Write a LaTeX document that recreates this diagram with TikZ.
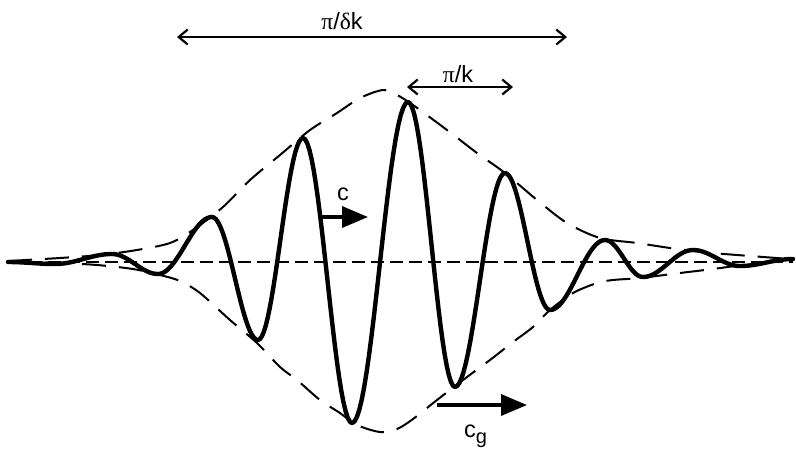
\documentclass[tikz,border=0pt]{standalone}
\usepackage{fontspec}
\setmainfont{Liberation Sans}
\newfontfamily\grk{Liberation Serif}
\usetikzlibrary{arrows.meta}
\begin{document}
\begin{tikzpicture}[x=1pt,y=-1pt,
  wave/.style={line width=4.4pt, line join=round, line cap=round},
  envel/.style={line width=2pt, dash pattern=on 24pt off 13pt},
  axisline/.style={line width=1.5pt, dash pattern=on 13pt off 6pt},
  dimarrow/.style={line width=2.2pt, {Straight Barb[length=9pt,width=15pt]}-{Straight Barb[length=9pt,width=15pt]}},
  velarrow/.style={line width=3.6pt, -{Triangle[length=26pt,width=21pt]}},
  lab/.style={font=\fontsize{23.5}{27}\selectfont, inner sep=0pt, anchor=base}]
\useasboundingbox (0,0) rectangle (796,451);
% baseline
\coordinate (bl) at (10,262);
\coordinate (br) at (793,262);
\draw[axisline] (bl) -- (br);
% envelope (upper and lower)
\draw[envel] plot[smooth, tension=0.5] coordinates {
 (8,261) (60,258) (100,255) (137,250) (170,243) (193,230) (223,207) (250,180)
 (280,155) (310,130) (337,113) (360,98) (383,90) (397,95) (413,105) (447,130)
 (477,153) (505,173) (537,200) (567,223) (600,238) (637,243) (677,249)
 (713,253) (750,256) (790,259)};
\draw[envel] plot[smooth, tension=0.5] coordinates {
 (8,262) (60,263) (97,265) (133,269) (160,275) (180,281) (200,293) (230,320)
 (257,343) (280,367) (297,380) (320,400) (340,413) (357,425) (380,432)
 (397,429) (413,419) (437,400) (467,377) (490,360) (513,342) (533,327)
 (550,310) (573,293) (597,283) (613,280) (640,278) (680,273) (713,269)
 (750,264) (790,260)};
% carrier wave
\draw[wave] (8,262) \foreach \a/\b/\c/\d in {
  8/262/55/264, 55/264/112/254, 112/254/158/274, 158/274/212/217,
  212/217/258/340, 258/340/303/138, 303/138/352/423, 352/423/408/102,
  408/102/455/387, 455/387/505/173, 505/173/550/310, 550/310/605/240,
  605/240/643/277, 643/277/693/250, 693/250/740/266, 740/266/793/259}
  { -- plot[domain=\a:\c, samples=24, variable=\t]
      (\t, {(\b+\d)/2+(\b-\d)/2*cos(180*(\t-\a)/(\c-\a))}) };
% pi/dk dimension
\coordinate (dkL) at (177,37);
\coordinate (dkR) at (567,37);
\draw[dimarrow] (dkL) -- (dkR);
\node[lab] (dklab) at (342,29) {{\grk π}/{\grk δ}k};
% pi/k dimension
\coordinate (kL) at (407,87);
\coordinate (kR) at (513,87);
\draw[dimarrow] (kL) -- (kR);
\node[lab] (klab) at (458,82) {{\grk π}/k};
% phase velocity
\coordinate (cS) at (321,217);
\coordinate (cE) at (368,217);
\draw[velarrow] (cS) -- (cE);
\node[lab] (clab) at (343,200) {c};
% group velocity
\coordinate (gS) at (437,405);
\coordinate (gE) at (527,405);
\draw[velarrow] (gS) -- (gE);
\node[lab, anchor=base west] (glab) at (464,437) {c\raisebox{-6pt}{\fontsize{20}{22}\selectfont g}};
\end{tikzpicture}
\end{document}
